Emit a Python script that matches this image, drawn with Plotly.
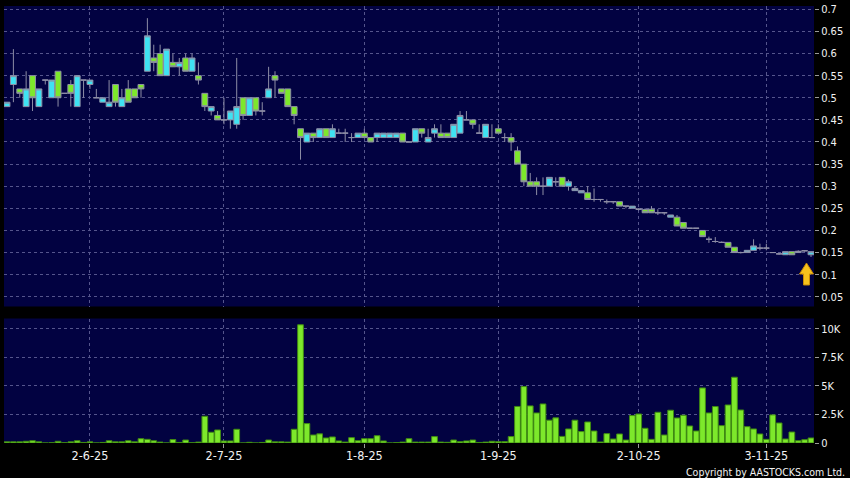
import plotly.graph_objects as go
import pandas as pd

# ---------------- data ----------------
holidays = ["2025-07-01", "2025-10-01", "2025-10-07", "2025-10-29"]
dates = [d.strftime("%Y-%m-%d") for d in pd.bdate_range("2025-05-14", "2025-11-12")
         if d.strftime("%Y-%m-%d") not in holidays]

open_ = [0.48, 0.53, 0.52, 0.48, 0.55, 0.48, 0.54, 0.50, 0.56, 0.51,
         0.53, 0.48, 0.54, 0.53, 0.50, 0.49, 0.48, 0.53, 0.48, 0.52,
         0.52, 0.53, 0.56, 0.59, 0.60, 0.55, 0.58, 0.57, 0.59, 0.56,
         0.55, 0.51, 0.47, 0.46, 0.45, 0.45, 0.44, 0.50, 0.46, 0.50,
         0.47, 0.50, 0.55, 0.52, 0.52, 0.48, 0.43, 0.40, 0.42, 0.41,
         0.43, 0.41, 0.42, 0.42, 0.41, 0.41, 0.42, 0.41, 0.41, 0.41,
         0.41, 0.41, 0.42, 0.40, 0.40, 0.43, 0.40, 0.42, 0.42, 0.42,
         0.41, 0.42, 0.45, 0.45, 0.42, 0.41, 0.41, 0.43, 0.41, 0.41,
         0.38, 0.35, 0.31, 0.31, 0.30, 0.30, 0.31, 0.32, 0.30, 0.29,
         0.285, 0.285, 0.27, 0.27, 0.265, 0.265, 0.265, 0.255, 0.25, 0.248,
         0.247, 0.248, 0.24, 0.24, 0.23, 0.23, 0.218, 0.205, 0.205, 0.20,
         0.18, 0.175, 0.173, 0.173, 0.162, 0.15, 0.15, 0.155, 0.16, 0.16,
         0.15, 0.147, 0.145, 0.152, 0.15, 0.154, 0.145]
high = [0.49, 0.61, 0.52, 0.56, 0.55, 0.52, 0.54, 0.54, 0.56, 0.51,
        0.54, 0.55, 0.54, 0.54, 0.52, 0.50, 0.54, 0.53, 0.52, 0.54,
        0.52, 0.53, 0.68, 0.62, 0.62, 0.61, 0.60, 0.59, 0.60, 0.60,
        0.58, 0.51, 0.48, 0.47, 0.50, 0.47, 0.59, 0.50, 0.50, 0.50,
        0.49, 0.57, 0.56, 0.52, 0.52, 0.48, 0.43, 0.42, 0.42, 0.43,
        0.43, 0.44, 0.43, 0.43, 0.42, 0.42, 0.43, 0.41, 0.42, 0.42,
        0.42, 0.42, 0.42, 0.40, 0.43, 0.43, 0.43, 0.44, 0.44, 0.42,
        0.44, 0.47, 0.47, 0.45, 0.44, 0.44, 0.44, 0.44, 0.42, 0.42,
        0.39, 0.35, 0.33, 0.32, 0.32, 0.32, 0.32, 0.32, 0.315, 0.30,
        0.29, 0.30, 0.295, 0.27, 0.27, 0.265, 0.265, 0.255, 0.255, 0.25,
        0.25, 0.255, 0.248, 0.24, 0.235, 0.235, 0.218, 0.205, 0.205, 0.20,
        0.186, 0.185, 0.175, 0.173, 0.162, 0.152, 0.155, 0.18, 0.17, 0.17,
        0.15, 0.148, 0.152, 0.152, 0.155, 0.155, 0.152]
low = [0.48, 0.49, 0.50, 0.48, 0.47, 0.48, 0.53, 0.50, 0.48, 0.51,
       0.48, 0.48, 0.50, 0.52, 0.50, 0.49, 0.48, 0.48, 0.48, 0.49,
       0.50, 0.50, 0.56, 0.56, 0.55, 0.55, 0.57, 0.55, 0.56, 0.56,
       0.53, 0.47, 0.46, 0.45, 0.44, 0.43, 0.43, 0.45, 0.46, 0.46,
       0.46, 0.50, 0.50, 0.51, 0.48, 0.44, 0.36, 0.40, 0.40, 0.41,
       0.41, 0.41, 0.42, 0.40, 0.40, 0.41, 0.41, 0.40, 0.40, 0.41,
       0.41, 0.41, 0.40, 0.40, 0.40, 0.41, 0.40, 0.41, 0.41, 0.41,
       0.41, 0.42, 0.45, 0.43, 0.42, 0.41, 0.41, 0.42, 0.40, 0.38,
       0.35, 0.30, 0.30, 0.28, 0.28, 0.30, 0.30, 0.30, 0.29, 0.29,
       0.285, 0.27, 0.265, 0.265, 0.26, 0.26, 0.255, 0.25, 0.25, 0.245,
       0.24, 0.24, 0.235, 0.235, 0.23, 0.21, 0.205, 0.205, 0.205, 0.186,
       0.172, 0.172, 0.173, 0.162, 0.15, 0.148, 0.15, 0.155, 0.155, 0.155,
       0.15, 0.145, 0.145, 0.145, 0.15, 0.152, 0.14]
close = [0.49, 0.55, 0.51, 0.52, 0.50, 0.52, 0.54, 0.54, 0.50, 0.51,
         0.51, 0.55, 0.54, 0.54, 0.50, 0.50, 0.49, 0.49, 0.50, 0.49,
         0.50, 0.52, 0.64, 0.58, 0.55, 0.61, 0.57, 0.58, 0.56, 0.59,
         0.54, 0.48, 0.48, 0.45, 0.45, 0.47, 0.48, 0.46, 0.50, 0.47,
         0.47, 0.52, 0.54, 0.51, 0.48, 0.46, 0.41, 0.42, 0.41, 0.43,
         0.41, 0.43, 0.42, 0.42, 0.41, 0.42, 0.41, 0.40, 0.42, 0.42,
         0.42, 0.42, 0.40, 0.40, 0.43, 0.42, 0.41, 0.43, 0.41, 0.41,
         0.44, 0.46, 0.45, 0.44, 0.42, 0.44, 0.41, 0.42, 0.41, 0.40,
         0.35, 0.31, 0.30, 0.30, 0.30, 0.32, 0.31, 0.30, 0.31, 0.295,
         0.29, 0.27, 0.27, 0.27, 0.265, 0.265, 0.255, 0.255, 0.255, 0.248,
         0.24, 0.24, 0.24, 0.24, 0.235, 0.21, 0.205, 0.205, 0.205, 0.186,
         0.18, 0.175, 0.173, 0.162, 0.15, 0.15, 0.155, 0.165, 0.16, 0.16,
         0.15, 0.147, 0.152, 0.145, 0.153, 0.154, 0.152]
volume = [100, 100, 100, 150, 200, 100, 0, 20, 150, 20,
          100, 200, 50, 100, 0, 50, 200, 100, 100, 200,
          100, 380, 320, 200, 80, 0, 300, 50, 260, 20,
          80, 2340, 940, 1140, 180, 180, 1200, 0, 60, 0,
          50, 260, 100, 100, 80, 1200, 10350, 1700, 700, 800,
          440, 530, 180, 80, 470, 200, 380, 380, 640, 180,
          0, 30, 80, 380, 80, 80, 80, 560, 80, 60,
          260, 120, 180, 260, 50, 80, 150, 120, 120, 560,
          3200, 4940, 3250, 2630, 3420, 2000, 2200, 580, 1230, 2000,
          1000, 1840, 1050, 90, 820, 350, 790, 260, 2400, 2540,
          1290, 320, 2690, 700, 2870, 2190, 2430, 1490, 1050, 4820,
          2630, 3190, 1520, 3330, 5760, 2890, 1430, 1230, 790, 320,
          2460, 1750, 350, 960, 200, 290, 440]

tick_dates = ["2025-06-02", "2025-07-02", "2025-08-01", "2025-09-01", "2025-10-02", "2025-11-03"]
tick_labels = ["2-6-25", "2-7-25", "1-8-25", "1-9-25", "2-10-25", "3-11-25"]
price_ticks = [0.05, 0.1, 0.15, 0.2, 0.25, 0.3, 0.35, 0.4, 0.45, 0.5, 0.55, 0.6, 0.65, 0.7]
price_labels = ["0.05", "0.1", "0.15", "0.2", "0.25", "0.3", "0.35", "0.4", "0.45",
                "0.5", "0.55", "0.6", "0.65", "0.7"]
vol_ticks = [0, 2500, 5000, 7500, 10000]
vol_labels = ["0", "2.5K", "5K", "7.5K", "10K"]

# ---------------- style ----------------
W, H = 850, 478
ML, MR, MT, MB = 4, 36, 6, 35
PW, PH = W - ML - MR, H - MT - MB
BG = "#020241"
GRID = "#55558c"
CYAN = "#3fe2f2"
GREEN = "#7de82b"
WICK = "#8e8ea6"
TXT = "#f2f2f2"
FONT = "DejaVu Sans Condensed, DejaVu Sans"

fig = go.Figure()
fig.add_trace(go.Candlestick(
    x=dates, open=open_, high=high, low=low, close=close,
    increasing=dict(fillcolor=CYAN, line=dict(color=WICK, width=1)),
    decreasing=dict(fillcolor=GREEN, line=dict(color=WICK, width=1)),
    xaxis="x", yaxis="y", showlegend=False, hoverinfo="x+y"))
fig.add_trace(go.Bar(
    x=dates, y=volume, marker=dict(color=GREEN, line=dict(color="#3f8a12", width=1)),
    xaxis="x2", yaxis="y2", showlegend=False))

n = len(dates)
xrange = [-0.47, n - 1 + 0.47]


def py(p):
    return (H - MB - p) / PH


def px(p):
    return (p - ML) / PW


common_x = dict(type="category", range=xrange, showgrid=True, gridcolor=GRID,
                griddash="3px,3px", gridwidth=1, zeroline=False, showline=False,
                tickvals=tick_dates, ticktext=tick_labels, rangeslider=dict(visible=False),
                fixedrange=True)
fig.update_layout(
    width=W, height=H,
    margin=dict(l=ML, r=MR, t=MT, b=MB, autoexpand=False),
    paper_bgcolor="black", plot_bgcolor=BG,
    font=dict(family=FONT, color=TXT, size=10),
    bargap=0.1, boxgap=0.08, boxgroupgap=0,
    xaxis=dict(domain=[0, 1], anchor="y", showticklabels=False, ticks="", **common_x),
    xaxis2=dict(domain=[0, 1], anchor="y2", matches="x", showticklabels=True,
                ticks="outside", ticklen=4, tickcolor="#9a9a9a", ticklabelstandoff=-3,
                tickfont=dict(size=12.5, color=TXT, family=FONT), **common_x),
    yaxis=dict(domain=[py(306.5), 1], anchor="x", side="right",
               range=[0.028, 0.7075], tickvals=price_ticks, ticktext=price_labels,
               ticks="outside", ticklen=4, tickcolor="#9a9a9a",
               tickfont=dict(size=11, color=TXT, family=FONT),
               showgrid=True, gridcolor=GRID, griddash="3px,3px", zeroline=False,
               showline=False, fixedrange=True),
    yaxis2=dict(domain=[0, py(318.5)], anchor="x2", side="right",
                range=[0, 10900], tickvals=vol_ticks, ticktext=vol_labels,
                ticks="outside", ticklen=4, tickcolor="#9a9a9a",
                tickfont=dict(size=11, color=TXT, family=FONT),
                showgrid=True, gridcolor=GRID, griddash="3px,3px", zeroline=False,
                showline=False, fixedrange=True),
)

# copyright
fig.add_annotation(text="Copyright by AASTOCKS.com Ltd.", xref="paper", yref="paper",
                   x=px(847), y=py(471.5), xanchor="right", yanchor="middle",
                   showarrow=False, font=dict(size=10.5, color=TXT, family=FONT))

# yellow up-arrow marker near the last candle
ax = [806.5, 813.5, 809.5, 809.5, 803.5, 803.5, 799.5]
ay = [263, 274, 274, 285, 285, 274, 274]
path = "M " + " L ".join(f"{px(a):.5f},{py(b):.5f}" for a, b in zip(ax, ay)) + " Z"
fig.add_shape(type="path", path=path, xref="paper", yref="paper",
              fillcolor="#f7c21c", line=dict(color="#c98a06", width=1))

fig.write_html("out.html", config={"displayModeBar": False},
               post_script="document.body.style.margin='0';document.body.style.background='black';")
